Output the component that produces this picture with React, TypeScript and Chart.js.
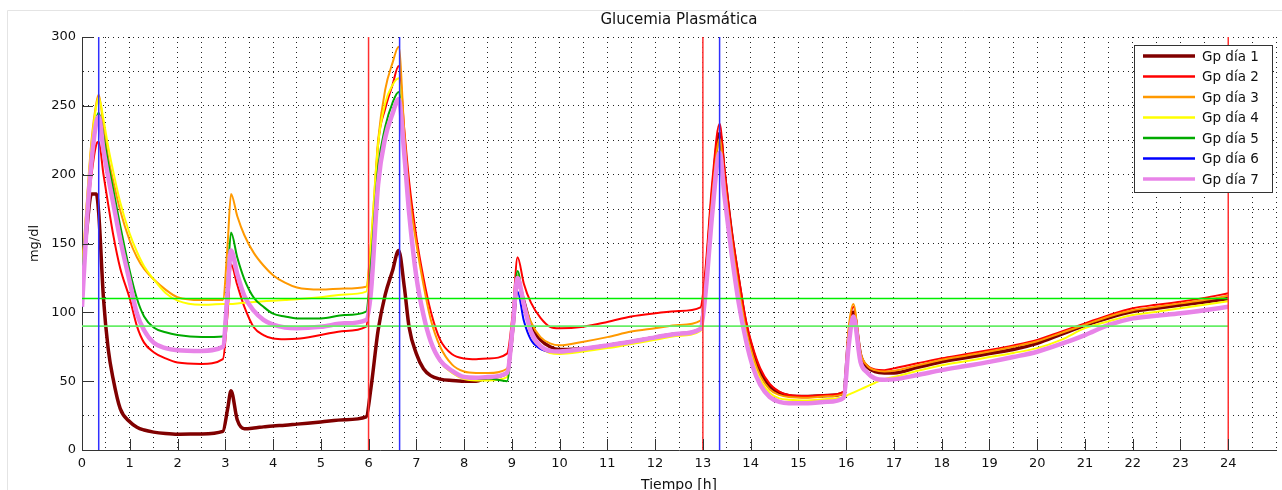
import { useEffect, useRef } from 'react';
import { Chart, registerables } from 'chart.js';

Chart.register(...registerables);

// ---------- DATA ----------
const TIMES = [
  0, 0.1, 0.2, 0.3, 0.35, 0.45, 0.55, 0.65, 0.8, 1.0, 1.15, 1.3, 1.5, 1.75, 2.0, 2.5, 2.95,
  3.05, 3.12, 3.25, 3.4, 3.6, 3.8, 4.0, 4.25, 4.5, 5.0, 5.5, 5.95,
  6.05, 6.2, 6.35, 6.5, 6.63, 6.75, 6.85, 7.0, 7.15, 7.3, 7.5, 7.75, 8.0, 8.25, 8.5, 8.9,
  9.02, 9.12, 9.25, 9.4, 9.6, 9.8, 10.0, 10.5, 11.0, 11.5, 12.0, 12.5, 12.95,
  13.05, 13.2, 13.35, 13.45, 13.6, 13.75, 13.9, 14.05, 14.2, 14.4, 14.6, 14.8, 15.2, 15.6, 15.95,
  16.05, 16.15, 16.3, 16.45, 16.6, 16.8,
  17, 17.5, 18, 18.5, 19, 19.5, 20, 20.5, 21, 21.5, 22, 22.5, 23, 23.5, 24,
];

const GP_DIA_1 = [
  118, 160, 186, 186, 172, 110, 73, 52, 30, 20.5, 16.5, 14.5, 13, 12, 11.5, 11.7, 13.5,
  30, 43, 22, 15.5, 16, 16.8, 17.5, 18, 18.8, 20.3, 22, 24,
  45, 87, 113, 130, 145, 118, 89, 70, 59, 54, 51.5, 50.5, 50, 50, 52.5, 56,
  88, 122, 108, 90, 80, 75, 73, 73.5, 76, 78.7, 81.8, 84.5, 88,
  118, 185, 230, 200, 157, 122, 91, 71, 57, 46.5, 41.5, 39.5, 38.8, 39.5, 41.5,
  80, 100, 69, 60, 57, 56,
  56, 60, 64, 67, 70, 73, 77.5, 84, 90.5, 96, 100.5, 103, 105.3, 107.5, 110,
];

const GP_DIA_2 = [
  118, 165, 200, 222, 224, 200, 178, 157, 132, 110, 90, 78, 71, 66.5, 63.5, 62.5, 66,
  100, 135, 120, 104, 89, 83.5, 81, 80.5, 80.8, 83.5, 86.5, 89.6,
  130, 222, 248, 265, 279, 232, 195, 155, 125, 101, 80, 69.5, 66.5, 66, 66.5, 70,
  100, 140, 121, 107, 96, 89.5, 88.4, 89.6, 93, 97, 99.3, 101, 103.6,
  130, 196, 237, 205, 160, 126, 94.5, 74, 59.5, 48, 42.4, 40, 39.2, 40, 42.5,
  85, 104, 70, 61, 58.5, 58,
  59.3, 63, 66.6, 69.5, 72.6, 76, 80, 86, 92, 98, 103, 105.5, 107.7, 110.5, 113.8,
];

const GP_DIA_3 = [
  130, 180, 225, 252, 258, 235, 212, 196, 174, 152, 140, 131.5, 124, 116.5, 111, 109, 109,
  150, 186, 170, 156, 143, 134, 127, 121.5, 118, 116.5, 117.3, 118.6,
  150, 225, 262, 281, 293, 230, 187, 150, 120, 95, 75, 62, 57, 56, 56, 59,
  90, 127, 108, 93, 82, 77.5, 76, 78.7, 82, 86, 88.4, 90.8, 94,
  120, 185, 226, 196, 153, 118, 88, 68, 54, 44, 40, 38.5, 38, 39, 41,
  88, 106, 71, 61, 58, 57,
  57.5, 61.5, 65.5, 68.5, 71.5, 75, 79, 85, 91, 97, 101.5, 104, 106.5, 109, 112,
];

const GP_DIA_4 = [
  128, 178, 222, 250, 256, 240, 220, 203, 180, 157, 144, 133.5, 124, 114, 108.5, 105.5, 106,
  106, 106, 106.5, 107, 107.5, 108, 108.5, 109, 109.5, 111, 113, 115,
  150, 222, 252, 265, 270, 210, 172, 127, 98, 78, 64, 56, 51.5, 50.5, 50.5, 53,
  85, 122, 103, 84, 74, 70.5, 69.8, 71.5, 74, 77, 80, 83, 86.5,
  110, 175, 214, 188, 147, 112, 84, 64, 51, 41.5, 37.5, 36.5, 36, 37, 38.5,
  40.2, 41.7, 44, 46.4, 48.7, 51.5,
  53, 57.5, 61.5, 64.5, 67.5, 70.5, 74, 80, 88.5, 93.5, 98, 100.5, 103, 105.5, 108,
];

const GP_DIA_5 = [
  125, 172, 212, 240, 245, 228, 208, 190, 163, 130, 110, 97, 89, 85.5, 83.5, 82, 82.5,
  125, 158, 140, 124, 110.5, 104, 99, 97, 95.6, 95.6, 98, 100.5,
  135, 205, 235, 252, 260, 212, 170, 126, 98, 79, 64.5, 57, 53, 52, 52, 50,
  90, 130, 104, 86, 76, 72, 71.5, 73.5, 76, 78.7, 81.8, 84.5, 88,
  112, 173, 216, 185, 143, 107, 80, 60, 47.5, 38.5, 35, 34, 34, 35, 38,
  75, 97, 64, 56, 52, 51,
  51.3, 54.5, 58, 61, 64, 67.5, 71.4, 77, 83.5, 90.8, 95.6, 97.5, 99.3, 101.5, 104,
];

const GP_DIA_6 = [
  104, 165, 210, 238, 242, 218, 198, 180, 153, 122, 99, 87, 78, 74, 72.5, 72, 75,
  115, 145, 128, 112, 101, 94.5, 91, 89, 88.5, 89.5, 92, 94.5,
  115, 193, 227, 244, 255, 214, 172, 126, 98, 79, 65, 57.5, 53, 52.5, 53, 56,
  88, 115, 94, 80, 73.5, 71.5, 71.2, 73.5, 76, 78.7, 81.8, 84.5, 88,
  112, 173, 216, 185, 143, 107, 80, 60, 47.5, 38.5, 35, 34, 34, 35, 38,
  75, 97, 64, 56, 52, 51,
  51.3, 54.5, 58, 61, 64, 67.5, 71.4, 77, 83.5, 90.8, 95.6, 97.5, 99.3, 101.5, 104,
];

const GP_DIA_7 = [
  104, 165, 210, 238, 242, 218, 198, 180, 153, 122, 99, 87, 78, 74, 72.5, 72, 75,
  115, 145, 128, 112, 101, 94.5, 91, 89, 88.5, 89.5, 92, 94.5,
  115, 193, 227, 244, 255, 214, 172, 126, 98, 79, 65, 57.5, 53, 52.5, 53, 56,
  90, 125, 106, 86, 75.5, 72, 71.5, 73.5, 76, 78.7, 81.8, 84.5, 88,
  112, 173, 216, 185, 143, 107, 80, 60, 47.5, 38.5, 35, 34, 34, 35, 38,
  75, 97, 64, 56, 52, 51,
  51.3, 54.5, 58, 61, 64, 67.5, 71.4, 77, 83.5, 90.8, 95.6, 97.5, 99.3, 101.5, 104,
];

const SERIES_LABELS = ['Gp día 1', 'Gp día 2', 'Gp día 3', 'Gp día 4', 'Gp día 5', 'Gp día 6', 'Gp día 7'];
const SERIES_VALUES = [GP_DIA_1, GP_DIA_2, GP_DIA_3, GP_DIA_4, GP_DIA_5, GP_DIA_6, GP_DIA_7];

const HOUR_TICKS = [0, 1, 2, 3, 4, 5, 6, 7, 8, 9, 10, 11, 12, 13, 14, 15, 16, 17, 18, 19, 20, 21, 22, 23, 24];
const GLUCOSE_TICKS = [0, 50, 100, 150, 200, 250, 300];

const MEAL_TIMES = [6, 13, 24];          // red vertical markers
const INSULIN_TIMES = [0.35, 6.65, 13.35]; // blue vertical markers
const TARGET_LIMITS = [110, 90];          // green horizontal limits
const LIMIT_END_HOUR = 24;

const TITLE = 'Glucemia Plasmática';
const X_TITLE = 'Tiempo [h]';
const Y_TITLE = 'mg/dl';

// ---------- STYLE ----------
const COLORS = ['#800000', '#ff0000', '#ff9900', '#ffff00', '#00aa00', '#0000ff', '#e884e8'];
const WIDTHS = [3.5, 2, 2, 2, 2, 2, 4.5];
const LEGEND_WIDTHS = [3.5, 2.5, 2.5, 2.5, 2.5, 2.5, 3.5];
const LIMIT_COLORS = ['#00ee00', '#66ee66'];
const FONT = 'DejaVu Sans';
const AXIS_COLOR = '#333333';
const W = 1282;
const H = 490;

const overlayPlugin = {
  id: 'overlay',
  beforeDraw(chart: any) {
    const { ctx } = chart;
    ctx.save();
    ctx.fillStyle = '#ffffff';
    ctx.fillRect(0, 0, W, H);
    ctx.strokeStyle = '#e4e4e4';
    ctx.lineWidth = 1;
    ctx.beginPath();
    ctx.moveTo(7.5, H);
    ctx.lineTo(7.5, 10.5);
    ctx.lineTo(W, 10.5);
    ctx.stroke();
    ctx.restore();
  },
  afterDatasetsDraw(chart: any) {
    const { ctx, chartArea, scales } = chart;
    const x = scales.x;
    const y = scales.y;
    ctx.save();
    TARGET_LIMITS.forEach((v, i) => {
      const py = y.getPixelForValue(v);
      ctx.strokeStyle = LIMIT_COLORS[i];
      ctx.lineWidth = 1.6;
      ctx.beginPath();
      ctx.moveTo(x.getPixelForValue(0), py);
      ctx.lineTo(x.getPixelForValue(LIMIT_END_HOUR), py);
      ctx.stroke();
    });
    const vline = (t: number, color: string) => {
      const px = x.getPixelForValue(t);
      ctx.strokeStyle = color;
      ctx.lineWidth = 1.5;
      ctx.beginPath();
      ctx.moveTo(px, chartArea.top);
      ctx.lineTo(px, chartArea.bottom);
      ctx.stroke();
    };
    MEAL_TIMES.forEach((t) => vline(t, '#ff3030'));
    INSULIN_TIMES.forEach((t) => vline(t, '#3030ff'));

    ctx.strokeStyle = AXIS_COLOR;
    ctx.lineWidth = 1;
    ctx.beginPath();
    HOUR_TICKS.forEach((t) => {
      const px = Math.round(x.getPixelForValue(t)) + 0.5;
      ctx.moveTo(px, chartArea.bottom);
      ctx.lineTo(px, chartArea.bottom - 11);
    });
    GLUCOSE_TICKS.forEach((v) => {
      const py = Math.round(y.getPixelForValue(v)) + 0.5;
      ctx.moveTo(chartArea.left, py);
      ctx.lineTo(chartArea.left + 11, py);
    });
    ctx.stroke();
    ctx.restore();
  },
  afterDraw(chart: any) {
    const { ctx, chartArea } = chart;
    ctx.save();
    ctx.fillStyle = '#111111';
    ctx.textAlign = 'center';
    ctx.textBaseline = 'middle';
    const cx = (chartArea.left + chartArea.right) / 2;
    ctx.font = `15px "${FONT}"`;
    ctx.fillText(TITLE, cx, 20);
    ctx.font = `14px "${FONT}"`;
    ctx.fillText(X_TITLE, cx, 485);
    ctx.font = `13px "${FONT}"`;
    ctx.save();
    ctx.translate(35, (chartArea.top + chartArea.bottom) / 2);
    ctx.rotate(-Math.PI / 2);
    ctx.fillText(Y_TITLE, 0, 0);
    ctx.restore();

    const bx = 1134.5;
    const by = 45.5;
    const bw = 138;
    const bh = 147;
    ctx.fillStyle = '#ffffff';
    ctx.fillRect(bx, by, bw, bh);
    ctx.strokeStyle = AXIS_COLOR;
    ctx.lineWidth = 1;
    ctx.strokeRect(bx, by, bw, bh);
    ctx.font = `13.5px "${FONT}"`;
    ctx.textAlign = 'left';
    SERIES_LABELS.forEach((lab, i) => {
      const ly = 56 + i * 20.5;
      ctx.strokeStyle = COLORS[i];
      ctx.lineWidth = LEGEND_WIDTHS[i];
      ctx.beginPath();
      ctx.moveTo(1143, ly);
      ctx.lineTo(1195, ly);
      ctx.stroke();
      ctx.fillStyle = '#111111';
      ctx.fillText(lab, 1202, ly + 1);
    });
    ctx.restore();
  },
};

export default function App() {
  const ref = useRef<HTMLCanvasElement | null>(null);

  useEffect(() => {
    if (!ref.current) return;
    const datasets = SERIES_VALUES.map((vals, i) => ({
      label: SERIES_LABELS[i],
      data: TIMES.map((t, k) => ({ x: t, y: vals[k] })),
      borderColor: COLORS[i],
      backgroundColor: COLORS[i],
      borderWidth: WIDTHS[i],
      pointRadius: 0,
      fill: false,
      cubicInterpolationMode: 'monotone' as const,
      order: SERIES_VALUES.length - i,
    }));
    const tickFont = { family: FONT, size: 13 };
    const chart = new Chart(ref.current, {
      type: 'line',
      data: { datasets },
      options: {
        responsive: false,
        animation: false,
        devicePixelRatio: 1,
        layout: { padding: { top: 37, right: 5, left: 0, bottom: 0 } },
        plugins: { legend: { display: false }, tooltip: { enabled: false }, title: { display: false } },
        scales: {
          x: {
            type: 'linear',
            min: 0,
            max: 25,
            afterFit: (s: any) => { s.height = 40; },
            ticks: {
              stepSize: 0.5,
              autoSkip: false,
              maxRotation: 0,
              padding: 6,
              color: '#111111',
              font: tickFont,
              callback: (v: any) => (HOUR_TICKS.includes(Number(v)) ? String(v) : ''),
            },
            grid: { color: '#222222', lineWidth: 1, drawTicks: false },
            border: { display: true, color: AXIS_COLOR, width: 1, dash: [1, 4] },
          },
          y: {
            type: 'linear',
            min: 0,
            max: 300,
            afterFit: (s: any) => { s.width = 82; },
            ticks: {
              stepSize: 25,
              padding: 6,
              color: '#111111',
              font: tickFont,
              callback: (v: any) => (GLUCOSE_TICKS.includes(Number(v)) ? String(v) : ''),
            },
            grid: { color: '#222222', lineWidth: 1, drawTicks: false },
            border: { display: true, color: AXIS_COLOR, width: 1, dash: [1, 4] },
          },
        },
      },
      plugins: [overlayPlugin],
    });
    return () => chart.destroy();
  }, []);

  return (
    <div style={{ position: 'absolute', left: 0, top: 0, width: W, height: H, background: '#fff' }}>
      <canvas ref={ref} width={W} height={H} style={{ display: 'block', width: W, height: H }} />
    </div>
  );
}
